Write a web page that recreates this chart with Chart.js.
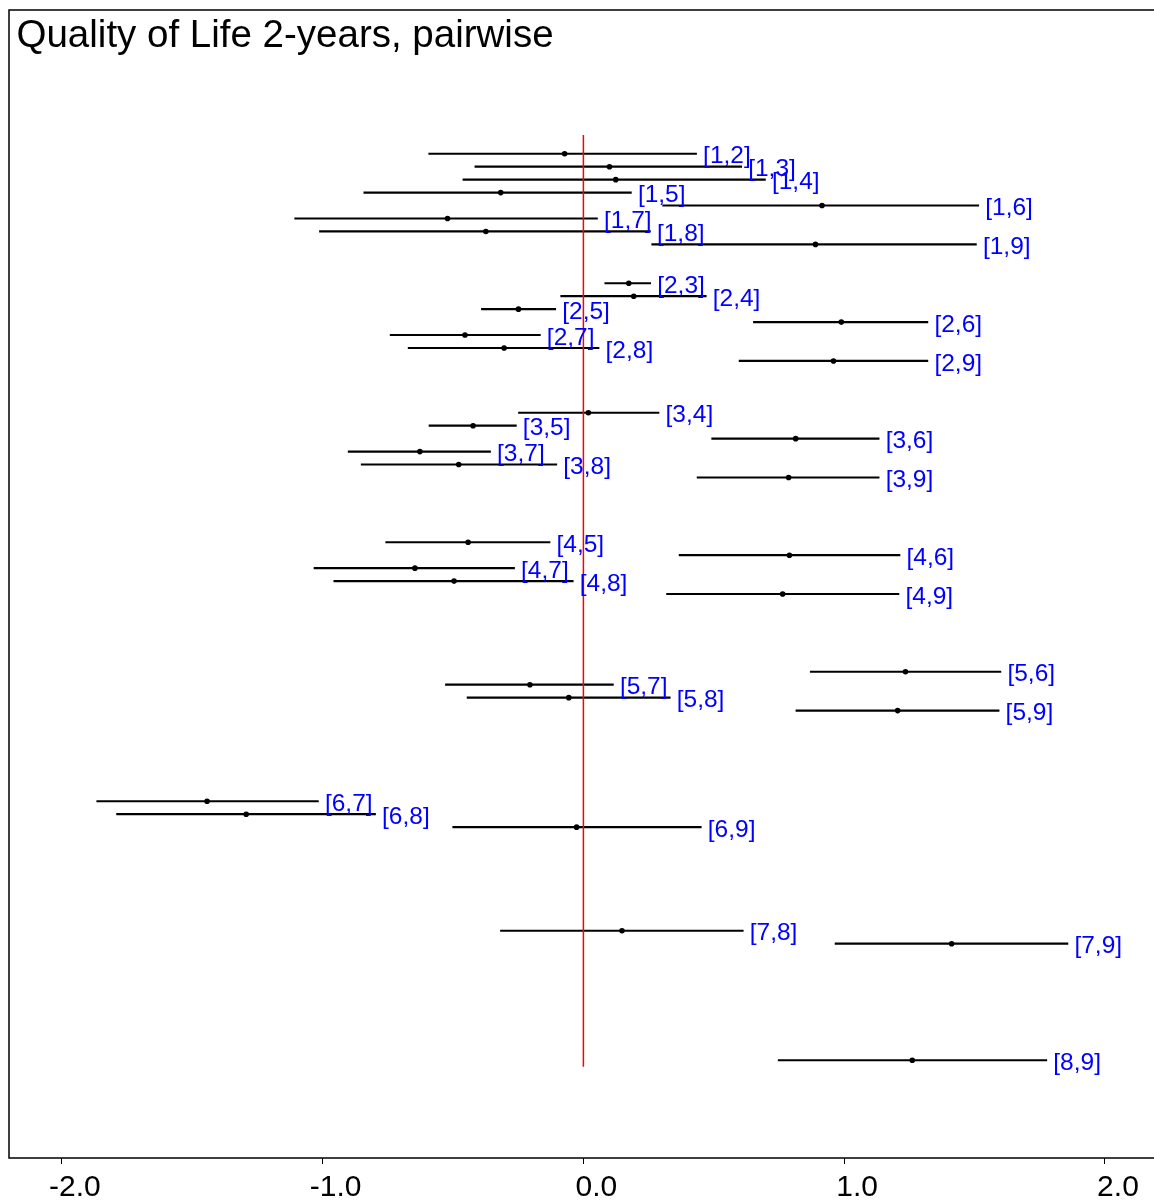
<!DOCTYPE html>
<html lang="en">
<head>
    <meta charset="UTF-8">
    <title>Quality of Life 2-years, pairwise</title>
    <script src="https://cdn.jsdelivr.net/npm/chart.js"></script>
    <style>
        html, body {
            margin: 0;
            padding: 0;
            background: #fff;
            overflow: hidden;
        }

        canvas {
            display: block;
        }
    </style>
</head>
<body>
<canvas id="forestChart" width="1154" height="1212"></canvas>

<script>
    // comparisons [first, second]
    const firstArm = [1, 1, 1, 1, 1, 1, 1, 1, 2, 2, 2, 2, 2, 2, 2, 3, 3, 3, 3, 3, 3, 4, 4, 4, 4, 4, 5, 5, 5, 5, 6, 6, 6, 7, 7, 8];
    const secondArm = [2, 3, 4, 5, 6, 7, 8, 9, 3, 4, 5, 6, 7, 8, 9, 4, 5, 6, 7, 8, 9, 5, 6, 7, 8, 9, 6, 7, 8, 9, 7, 8, 9, 8, 9, 9];

    const estimates = [
        -0.072, 0.100, 0.124, -0.317, 0.915, -0.521, -0.374, 0.890,
        0.174, 0.193, -0.249, 0.989, -0.454, -0.304, 0.959,
        0.019, -0.423, 0.814, -0.627, -0.478, 0.787,
        -0.442, 0.790, -0.646, -0.496, 0.764,
        1.235, -0.205, -0.056, 1.205,
        -1.443, -1.293, -0.026,
        0.148, 1.412,
        1.261
    ];
    const lowerCI = [
        -0.593, -0.416, -0.462, -0.842, 0.304, -1.107, -1.012, 0.262,
        0.082, -0.087, -0.391, 0.652, -0.741, -0.672, 0.597,
        -0.249, -0.592, 0.492, -0.902, -0.852, 0.436,
        -0.758, 0.367, -1.033, -0.957, 0.319,
        0.870, -0.529, -0.446, 0.815,
        -1.866, -1.790, -0.501,
        -0.318, 0.965,
        0.747
    ];
    const upperCI = [
        0.434, 0.607, 0.698, 0.184, 1.516, 0.054, 0.257, 1.507,
        0.258, 0.471, -0.106, 1.321, -0.165, 0.060, 1.321,
        0.290, -0.257, 1.134, -0.356, -0.102, 1.134,
        -0.128, 1.214, -0.264, -0.039, 1.210,
        1.601, 0.115, 0.333, 1.594,
        -1.016, -0.797, 0.452,
        0.613, 1.858,
        1.777
    ];

    const xTickValues = [-2, -1, 0, 1, 2];
    const xTickLabels = ['-2.0', '-1.0', '0.0', '1.0', '2.0'];
    const titleText = 'Quality of Life 2-years, pairwise';

    // each first arm gets a block of 9 rows
    const rowOf = i => (firstArm[i] - 1) * 9 + (secondArm[i] - 1);
    const labels = firstArm.map((a, i) => `[${a},${secondArm[i]}]`);

    const FONT = "'Liberation Sans', Arial, sans-serif";

    const decorPlugin = {
        id: 'decor',
        afterDatasetsDraw(chart) {
            const ctx = chart.ctx;
            const xs = chart.scales.x;
            const ys = chart.scales.y;
            ctx.save();
            ctx.font = '24.5px ' + FONT;
            ctx.fillStyle = '#0000FF';
            ctx.textBaseline = 'alphabetic';
            labels.forEach((lab, i) => {
                ctx.fillText(lab, xs.getPixelForValue(upperCI[i]) + 6.5, ys.getPixelForValue(rowOf(i)) + 9.6);
            });
            ctx.restore();
        },
        afterDraw(chart) {
            const ctx = chart.ctx;
            const a = chart.chartArea;
            ctx.save();
            // the box stays open on the right, like the original
            ctx.fillStyle = '#fff';
            ctx.fillRect(chart.width - 3, a.top + 1, 3, a.bottom - a.top - 2);
            // frame: left, top, bottom
            ctx.strokeStyle = '#000';
            ctx.lineWidth = 1.5;
            ctx.beginPath();
            ctx.moveTo(chart.width + 5, a.top);
            ctx.lineTo(a.left, a.top);
            ctx.lineTo(a.left, a.bottom);
            ctx.lineTo(chart.width + 5, a.bottom);
            ctx.stroke();
            ctx.font = '38.5px ' + FONT;
            ctx.fillStyle = '#000';
            ctx.textBaseline = 'alphabetic';
            ctx.fillText(titleText, a.left + 7.5, a.top + 37);
            ctx.restore();
        }
    };

    const ctx = document.getElementById('forestChart').getContext('2d');
    new Chart(ctx, {
        type: 'scatter',
        data: {
            datasets: [
                {
                    type: 'scatter',
                    data: estimates.map((v, i) => ({x: v, y: rowOf(i)})),
                    pointRadius: 2.8,
                    pointBackgroundColor: '#000',
                    pointBorderWidth: 0,
                    pointHoverRadius: 2.8
                },
                {
                    type: 'line',
                    data: [{x: 0, y: -0.45}, {x: 0, y: 71.5}],
                    borderColor: '#FF0000',
                    borderWidth: 1.5,
                    pointRadius: 0,
                    fill: false
                },
                {
                    type: 'bar',
                    indexAxis: 'y',
                    data: lowerCI.map((lo, i) => ({x: [lo, upperCI[i]], y: rowOf(i)})),
                    backgroundColor: '#000',
                    borderWidth: 0,
                    barThickness: 1.5
                }
            ]
        },
        options: {
            responsive: false,
            animation: false,
            events: [],
            layout: {
                autoPadding: false,
                padding: {left: 9, top: 10, right: 0, bottom: 0}
            },
            plugins: {
                legend: {display: false},
                tooltip: {enabled: false},
                title: {display: false}
            },
            scales: {
                x: {
                    type: 'linear',
                    position: 'bottom',
                    min: -2.2025,
                    max: 2.188,
                    offset: false,
                    afterBuildTicks: scale => {
                        scale.ticks = xTickValues.map(v => ({value: v}));
                    },
                    ticks: {
                        callback: (value, index) => xTickLabels[index],
                        color: '#000',
                        padding: 9,
                        labelOffset: 13,
                        maxRotation: 0,
                        font: {family: FONT, size: 30, lineHeight: 1}
                    },
                    grid: {
                        drawOnChartArea: false,
                        drawTicks: true,
                        tickLength: 6,
                        tickColor: '#000',
                        offset: false
                    },
                    border: {display: false}
                },
                y: {
                    type: 'linear',
                    display: false,
                    reverse: true,
                    min: -10.1,
                    max: 78.55,
                    offset: false,
                    grid: {offset: false}
                }
            }
        },
        plugins: [decorPlugin]
    });
</script>
</body>
</html>
